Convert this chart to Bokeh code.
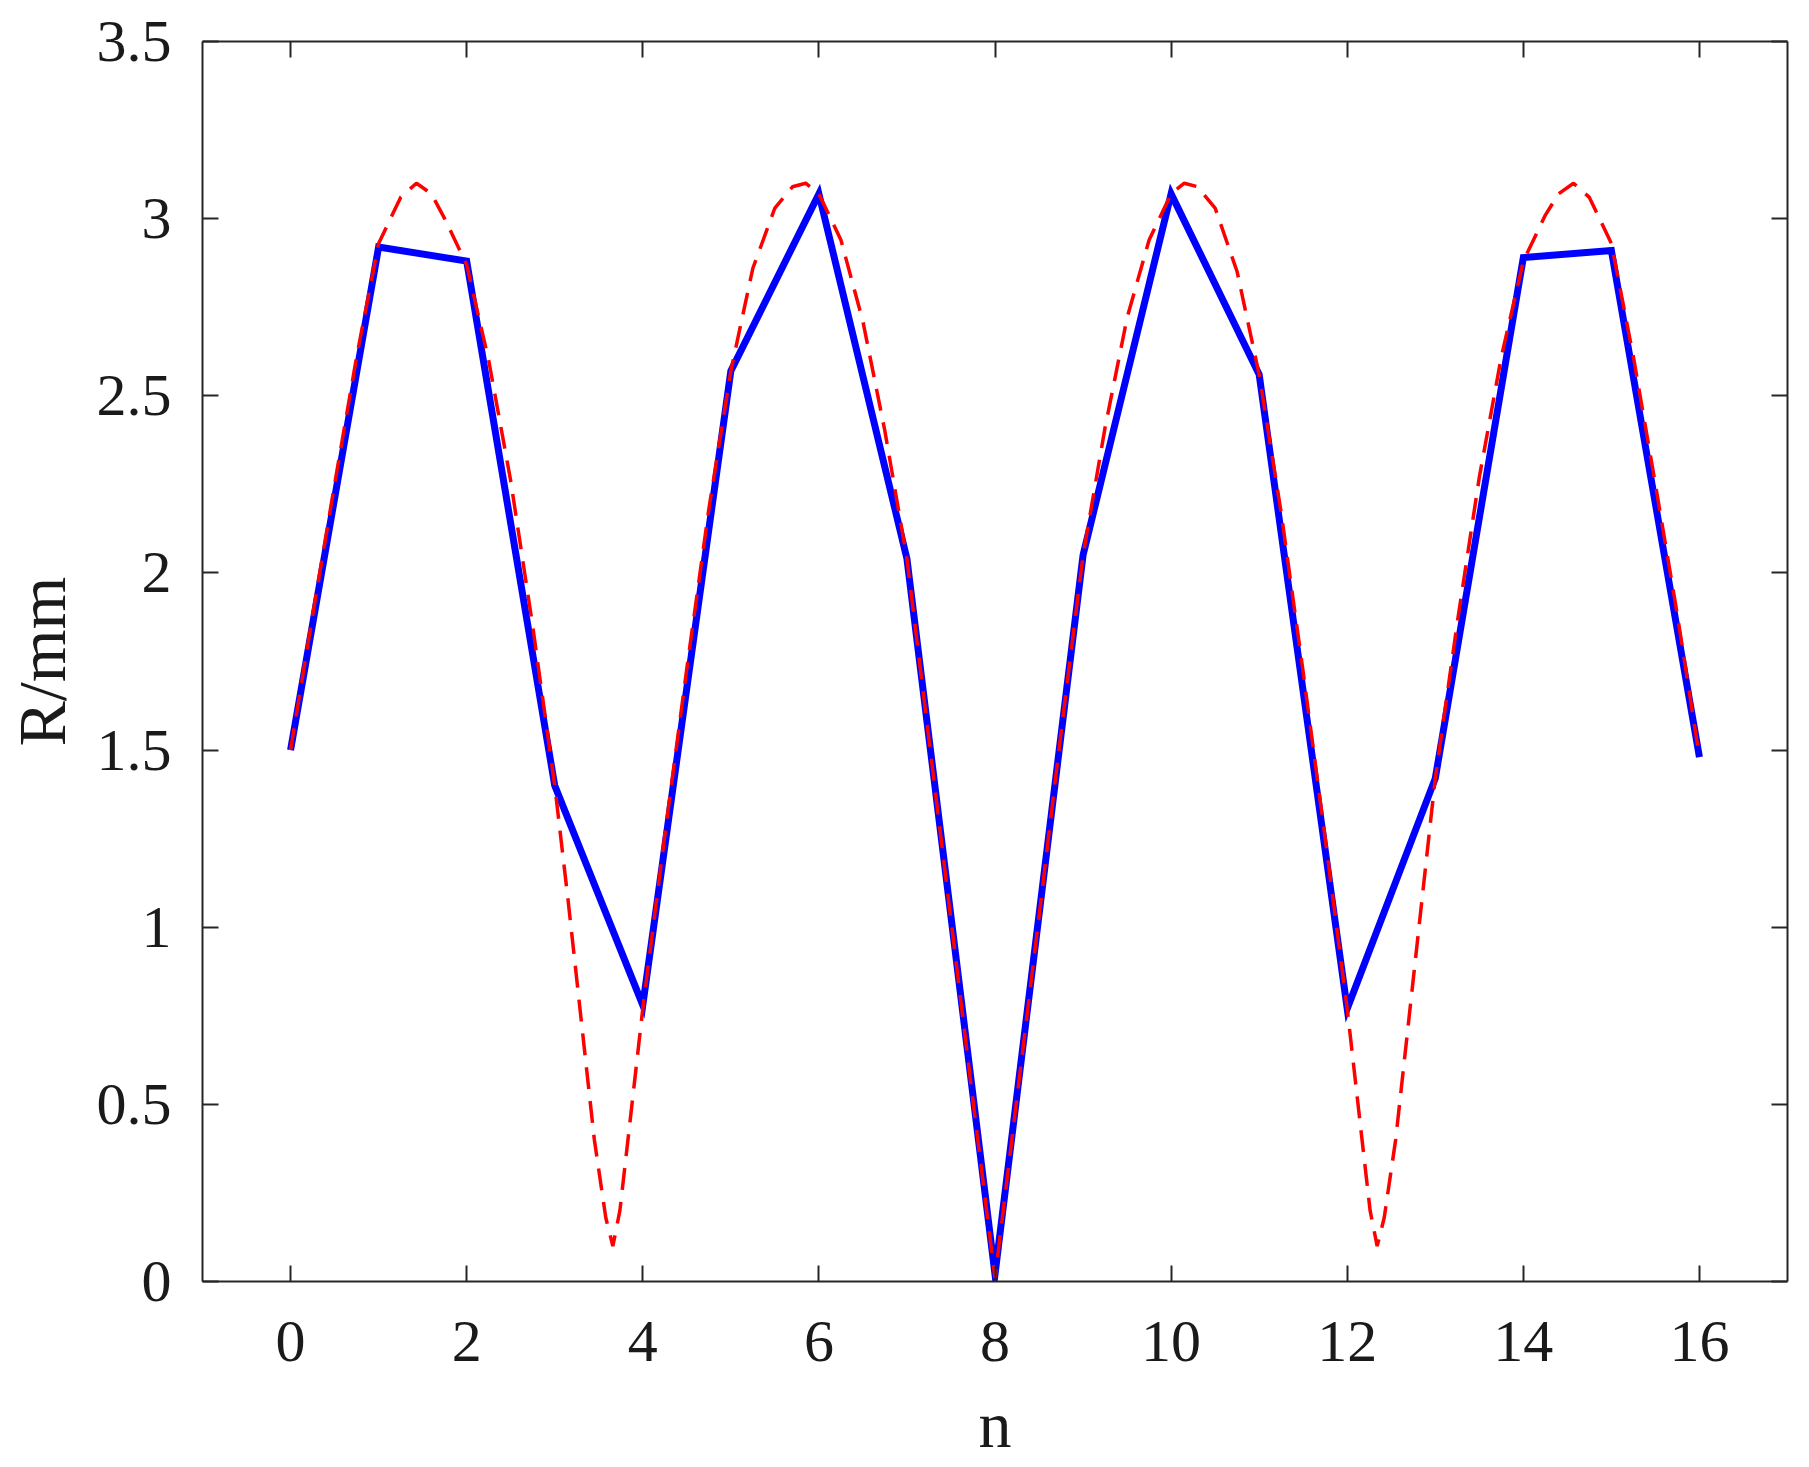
from bokeh.plotting import figure
from bokeh.models import LinearAxis, FixedTicker, Range1d, CustomJSTickFormatter
from bokeh.embed import file_html
from bokeh.resources import INLINE

# Blue solid series (sampled at integer n)
blue_n = list(range(0, 17))
blue_R = [1.50, 2.92, 2.88, 1.40, 0.78, 2.57, 3.07, 2.04, 0.02,
          2.05, 3.07, 2.56, 0.77, 1.42, 2.89, 2.91, 1.48]

# Red dashed curve
red_n = [0, 0.25, 0.5, 0.75, 1.0, 1.25, 1.43, 1.6, 1.75, 2.0, 2.25, 2.5, 2.75,
         3.0, 3.15, 3.3, 3.45, 3.58, 3.66, 3.74, 3.85, 4.0, 4.25, 4.5, 4.75,
         5.0, 5.25, 5.5, 5.7, 5.85, 6.0, 6.25, 6.5, 6.75, 7.0, 7.25, 7.5, 7.75,
         8.0, 8.25, 8.5, 8.75, 9.0, 9.25, 9.5, 9.75, 10.0, 10.15, 10.3, 10.5,
         10.75, 11.0, 11.25, 11.5, 11.75, 12.0, 12.15, 12.26, 12.34, 12.42,
         12.55, 12.7, 12.85, 13.0, 13.25, 13.5, 13.75, 14.0, 14.25, 14.4,
         14.57, 14.75, 15.0, 15.25, 15.5, 15.75, 16.0]
red_R = [1.50, 1.88, 2.25, 2.61, 2.93, 3.06, 3.10, 3.07, 3.00, 2.87, 2.60, 2.26, 1.85,
         1.40, 1.08, 0.74, 0.40, 0.18, 0.10, 0.20, 0.44, 0.77, 1.26, 1.73, 2.18,
         2.57, 2.86, 3.03, 3.09, 3.10, 3.07, 2.94, 2.71, 2.40, 2.04, 1.53, 1.02, 0.51,
         0.01, 0.52, 1.03, 1.55, 2.05, 2.41, 2.72, 2.94, 3.07, 3.10, 3.09, 3.03,
         2.85, 2.56, 2.17, 1.72, 1.25, 0.77, 0.44, 0.20, 0.10, 0.18,
         0.40, 0.74, 1.08, 1.42, 1.86, 2.27, 2.61, 2.88, 3.01, 3.07,
         3.10, 3.06, 2.93, 2.61, 2.25, 1.88, 1.48]

x_ticks = [0, 2, 4, 6, 8, 10, 12, 14, 16]
y_ticks = [0, 0.5, 1, 1.5, 2, 2.5, 3, 3.5]
y_tick_labels = {0: "0", 0.5: "0.5", 1: "1", 1.5: "1.5", 2: "2", 2.5: "2.5", 3: "3", 3.5: "3.5"}

FONT = "Liberation Serif"
AX = "#262626"
TXT = "#1a1a1a"

p = figure(x_range=Range1d(-1, 17), y_range=Range1d(0, 3.5),
           frame_width=1585, frame_height=1240,
           min_border_left=200, min_border_top=41, min_border_right=14, min_border_bottom=60,
           output_backend="svg", toolbar_location=None,
           x_axis_location=None, y_axis_location=None)
p.grid.visible = False
p.outline_line_color = None
p.background_fill_color = "white"
p.border_fill_color = "white"


def style_axis(ax):
    ax.axis_line_color = AX
    ax.axis_line_width = 2
    ax.major_tick_line_color = AX
    ax.major_tick_line_width = 2
    ax.major_tick_in = 16
    ax.major_tick_out = 0
    ax.minor_tick_line_color = None
    ax.major_label_text_font = FONT
    ax.major_label_text_font_size = "60px"
    ax.major_label_text_color = TXT
    ax.axis_label_text_font = FONT
    ax.axis_label_text_font_style = "normal"
    ax.axis_label_text_color = TXT


xb = LinearAxis(ticker=FixedTicker(ticks=x_ticks), axis_label="n")
style_axis(xb)
xb.axis_label_text_font_size = "66px"
xb.major_label_standoff = 40
xb.axis_label_standoff = 24
p.add_layout(xb, "below")

yl = LinearAxis(ticker=FixedTicker(ticks=y_ticks), axis_label="R/mm")
style_axis(yl)
yl.axis_label_text_font_size = "68px"
yl.major_label_overrides = y_tick_labels
yl.major_label_standoff = 31
yl.axis_label_standoff = 14
p.add_layout(yl, "left")

blank = CustomJSTickFormatter(code="return '';")

xt = LinearAxis(ticker=FixedTicker(ticks=x_ticks), formatter=blank)
style_axis(xt)
xt.major_label_standoff = 0
p.add_layout(xt, "above")

yr = LinearAxis(ticker=FixedTicker(ticks=y_ticks), formatter=blank)
style_axis(yr)
yr.major_label_standoff = 0
p.add_layout(yr, "right")

p.line(blue_n, blue_R, line_color="#0000ff", line_width=7, line_join="miter")
p.line(red_n, red_R, line_color="#ff0000", line_width=3.5, line_dash="22 12")

open("out.html", "w").write(file_html(p, INLINE))
